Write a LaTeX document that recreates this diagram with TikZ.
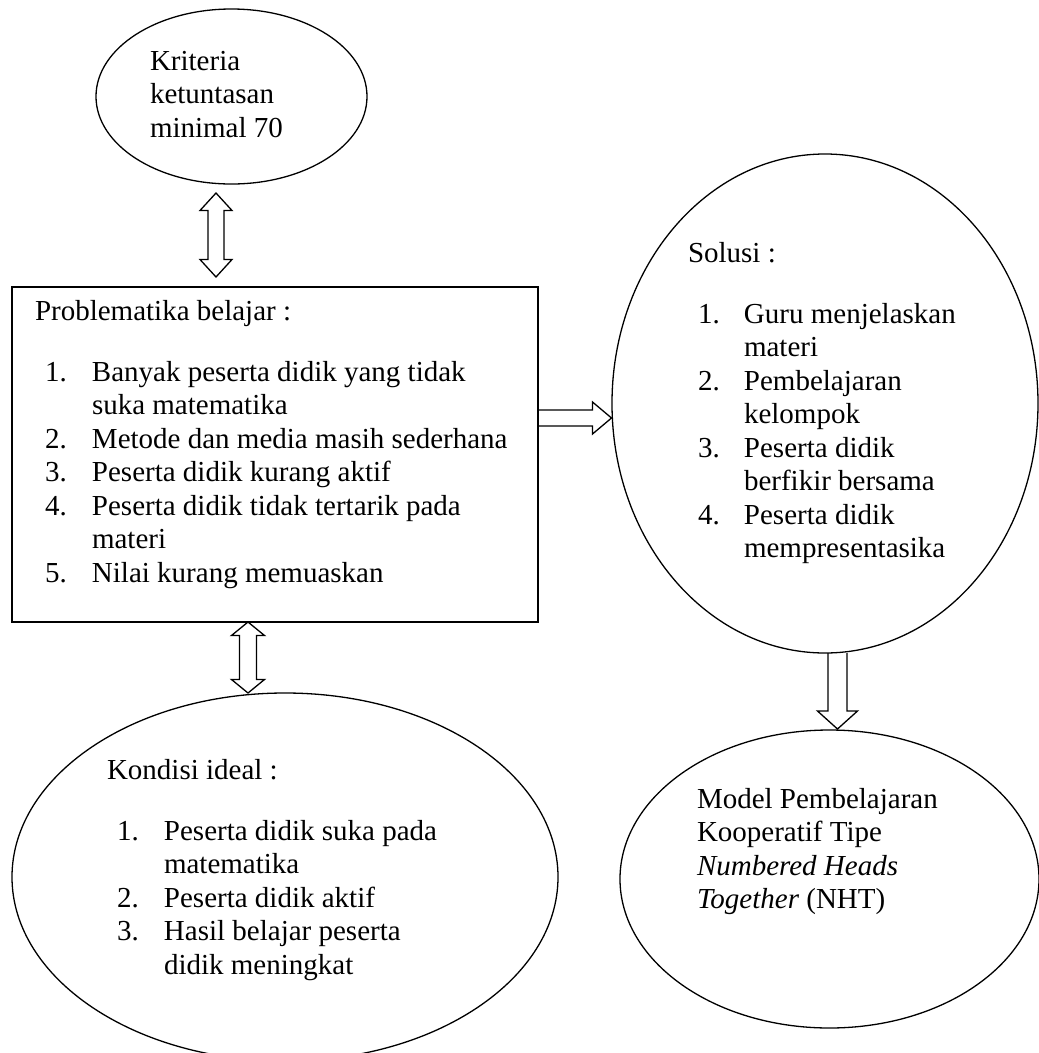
\documentclass[tikz,border=0pt]{standalone}
\usepackage{fontspec}
\setmainfont{Liberation Serif}
\usetikzlibrary{calc,shapes.geometric}
% hollow block arrows: [shaft half width : head half width : head length](from)(to)
\def\blockarrow[#1:#2:#3](#4)(#5){%
	\coordinate (hb) at ($(#5)!#3!(#4)$);
	\draw[arrowline] ($(#4)!#1!90:(#5)$) -- ($(hb)!#1!90:(#5)$) -- ($(hb)!#2!90:(#5)$) -- (#5)
		-- ($(hb)!#2!-90:(#5)$) -- ($(hb)!#1!-90:(#5)$) -- ($(#4)!#1!-90:(#5)$);}
\def\blockdarrow[#1:#2:#3](#4)(#5){%
	\coordinate (ha) at ($(#4)!#3!(#5)$);
	\coordinate (hb) at ($(#5)!#3!(#4)$);
	\draw[arrowline] (#4) -- ($(ha)!#2!90:(#5)$) -- ($(ha)!#1!90:(#5)$) -- ($(hb)!#1!-90:(#4)$)
		-- ($(hb)!#2!-90:(#4)$) -- (#5) -- ($(hb)!#2!90:(#4)$) -- ($(hb)!#1!90:(#4)$)
		-- ($(ha)!#1!-90:(#5)$) -- ($(ha)!#2!-90:(#5)$) -- cycle;}

\begin{document}
\begin{tikzpicture}[x=1pt,y=-1pt,
		font=\fontsize{29}{33.5}\selectfont,
		oval/.style={ellipse,draw,line width=1.3pt,inner sep=0pt,outer sep=0pt},
		frame/.style={rectangle,draw,line width=1.4pt,inner sep=0pt,outer sep=0pt},
		txt/.style={anchor=base west,inner sep=0pt,outer sep=0pt},
		arrowline/.style={line width=1.3pt,line join=miter}]
	\useasboundingbox (0,0) rectangle (1039,1053);
	%%%%% SHAPES %%%%%
	\node[oval,minimum width=271pt,minimum height=175pt] (krit) at (231.5,96.5) {};
	\node[frame,minimum width=526pt,minimum height=335pt] (prob) at (275,454.5) {};
	\node[oval,minimum width=426pt,minimum height=499pt] (sol) at (825,403.5) {};
	\node[oval,minimum width=546pt,minimum height=368pt] (kond) at (285,877) {};
	\node[oval,minimum width=419pt,minimum height=298pt] (model) at (829.5,879) {};
	
	%%%%% TEXTS %%%%%
	\node[txt] (kritT) at (150,70) {\begin{tabular}[t]{@{}l@{}}
			Kriteria\\ ketuntasan\\ minimal 70\end{tabular}};
	\node[txt] (probT) at (35,320) {\begin{tabular}[t]{@{}p{57pt}@{}l@{}}
			\multicolumn{2}{@{}l@{}}{Problematika belajar :}\\[27.5pt]
			\hspace*{10pt}1. & Banyak peserta didik yang tidak\\
			& suka matematika\\
			\hspace*{10pt}2. & Metode dan media masih sederhana\\
			\hspace*{10pt}3. & Peserta didik kurang aktif\\
			\hspace*{10pt}4. & Peserta didik tidak tertarik pada\\
			& materi\\
			\hspace*{10pt}5. & Nilai kurang memuaskan\end{tabular}};
	\node[txt] (solT) at (688,262) {\begin{tabular}[t]{@{}p{56pt}@{}l@{}}
			\multicolumn{2}{@{}l@{}}{Solusi :}\\[27.5pt]
			\hspace*{10pt}1. & Guru menjelaskan\\
			& materi\\
			\hspace*{10pt}2. & Pembelajaran\\
			& kelompok\\
			\hspace*{10pt}3. & Peserta didik\\
			& berfikir bersama\\
			\hspace*{10pt}4. & Peserta didik\\
			& mempresentasika\end{tabular}};
	\node[txt] (kondT) at (107,779) {\begin{tabular}[t]{@{}p{57pt}@{}l@{}}
			\multicolumn{2}{@{}l@{}}{Kondisi ideal :}\\[27.5pt]
			\hspace*{10pt}1. & Peserta didik suka pada\\
			& matematika\\
			\hspace*{10pt}2. & Peserta didik aktif\\
			\hspace*{10pt}3. & Hasil belajar peserta\\
			& didik meningkat\end{tabular}};
	\node[txt] (modelT) at (697,808) {\begin{tabular}[t]{@{}l@{}}
			Model Pembelajaran\\ Kooperatif Tipe\\ \textit{Numbered Heads}\\
			\textit{Together} (NHT)\end{tabular}};
	
	%%%%% ARROWS %%%%%
	\coordinate (a1) at ($(krit.south)+(-15.5,9)$);
	\coordinate (a2) at ($(prob.north)+(-59,-10)$);
	\blockdarrow[8pt:16pt:17.5pt](a1)(a2)
	
	\coordinate (b1) at ($(prob.east)+(0,-36.5)$);
	\coordinate (b2) at ($(sol.west)+(-0.5,14.5)$);
	\blockarrow[8pt:16pt:19pt](b1)(b2)
	
	\coordinate (c1) at ($(prob.south)+(-27,0)$);
	\coordinate (c2) at ($(kond.north)+(-37,0)$);
	\blockdarrow[8.5pt:16.5pt:13.5pt](c1)(c2)
	
	\coordinate (d1) at ($(sol.south)+(12.5,0)$);
	\coordinate (d2) at ($(model.north)+(8,-1)$);
	\blockarrow[9.5pt:20pt:18pt](d1)(d2)
\end{tikzpicture}
\end{document}
